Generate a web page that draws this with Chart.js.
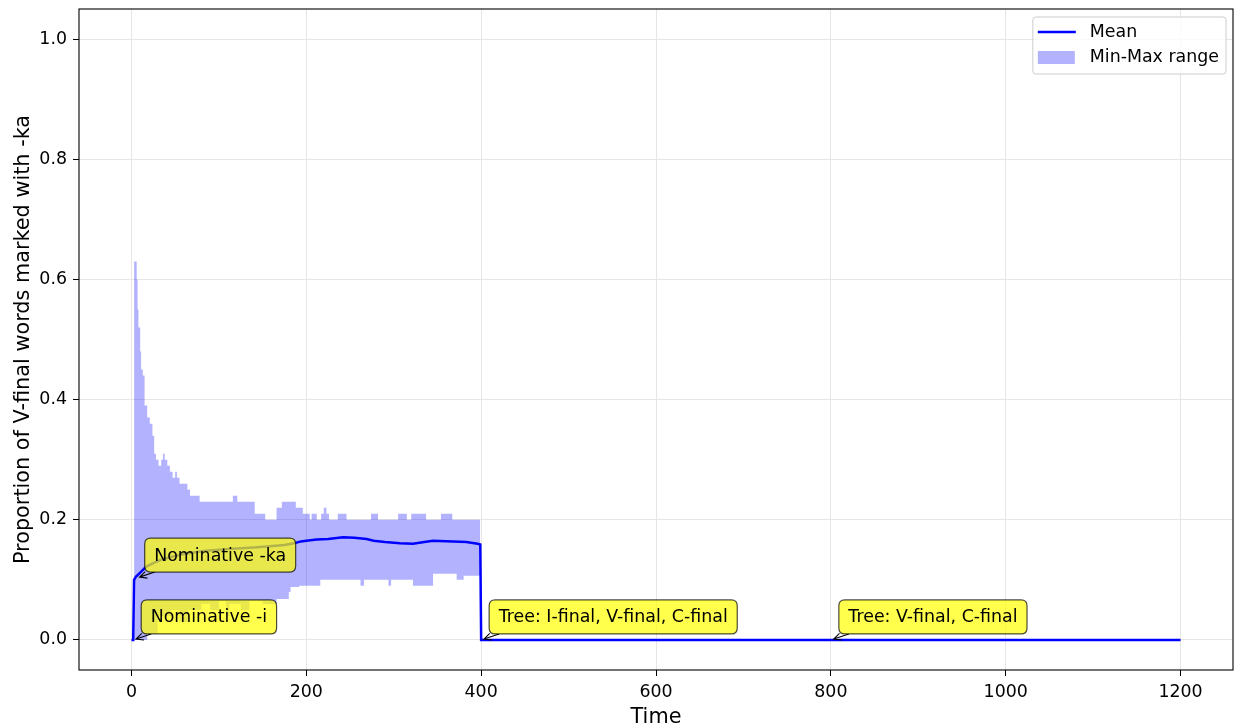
<!DOCTYPE html>
<html>
<head>
<meta charset="utf-8">
<script src="https://cdn.jsdelivr.net/npm/chart.js@4.4.1/dist/chart.umd.min.js"></script>
<style>
  html, body { margin: 0; padding: 0; background: #fff; }
  #chart { display: block; }
</style>
</head>
<body>
<canvas id="chart" width="1236" height="727"></canvas>
<script>
// eixos
const xTicks = [0, 200, 400, 600, 800, 1000, 1200];
const yTicks = [0, 0.2, 0.4, 0.6, 0.8, 1.0];

// média ao longo do tempo
const meanTimes = [0, 2, 3, 5, 10, 17, 25, 35, 45, 60, 82, 100, 120, 140, 158, 175, 186, 194, 200, 212,
  225, 242, 255, 269, 277, 290, 307, 322, 335, 345, 368, 383, 396, 399, 400, 1200];
const meanValues = [0, 0, 0.100, 0.105, 0.112, 0.122, 0.128, 0.134, 0.138, 0.143, 0.148, 0.150, 0.152, 0.154, 0.156, 0.158, 0.161, 0.164, 0.165, 0.167,
  0.168, 0.171, 0.170, 0.168, 0.165, 0.163, 0.161, 0.160, 0.163, 0.165, 0.164, 0.163, 0.160, 0.159, 0, 0];

// faixa min-max (degraus: cada valor vale a partir do seu tempo)
const bandTimes = [3, 6, 7, 8, 10, 11, 13, 15, 18, 21, 24, 26, 28, 30, 31, 34, 36, 38, 41, 44,
  45, 47, 50, 52, 55, 60, 64, 65, 67, 75, 78, 80, 90, 100, 108, 112, 116, 121, 125, 135,
  141, 150, 153, 166, 172, 180, 182, 188, 192, 196, 204, 206, 212, 216, 217, 220, 223, 226, 236, 246,
  262, 266, 274, 282, 294, 297, 305, 315, 320, 322, 337, 345, 354, 367, 372, 380, 399];
const bandMax = [0.63, 0.60, 0.55, 0.52, 0.48, 0.45, 0.44, 0.39, 0.37, 0.36, 0.34, 0.31, 0.30, 0.30, 0.29, 0.30, 0.31, 0.30, 0.29, 0.28,
  0.28, 0.27, 0.28, 0.27, 0.26, 0.26, 0.25, 0.25, 0.24, 0.24, 0.23, 0.23, 0.23, 0.23, 0.23, 0.23, 0.24, 0.23, 0.23, 0.23,
  0.21, 0.21, 0.20, 0.22, 0.23, 0.23, 0.23, 0.22, 0.22, 0.21, 0.20, 0.21, 0.20, 0.20, 0.21, 0.22, 0.21, 0.20, 0.21, 0.20,
  0.20, 0.20, 0.21, 0.20, 0.20, 0.20, 0.21, 0.20, 0.21, 0.21, 0.20, 0.20, 0.21, 0.20, 0.20, 0.20, 0.20];
const bandMin = [0, 0, 0, 0, 0, 0, 0, 0, 0.01, 0.01, 0.01, 0.01, 0.01, 0.04, 0.04, 0.04, 0.04, 0.04, 0.04, 0.04,
  0.05, 0.05, 0.05, 0.05, 0.03, 0.03, 0.03, 0.05, 0.05, 0.05, 0.05, 0.06, 0.05, 0.065, 0.04, 0.06, 0.06, 0.06, 0.05, 0.065,
  0.065, 0.06, 0.06, 0.068, 0.068, 0.08, 0.088, 0.088, 0.09, 0.09, 0.09, 0.09, 0.09, 0.10, 0.10, 0.10, 0.10, 0.10, 0.10, 0.10,
  0.09, 0.10, 0.10, 0.10, 0.09, 0.10, 0.10, 0.10, 0.10, 0.09, 0.09, 0.11, 0.11, 0.11, 0.10, 0.107, 0.107];

// anotações
const noteTexts = ['Nominative -ka', 'Nominative -i', 'Tree: I-final, V-final, C-final', 'Tree: V-final, C-final'];
const noteX = [6, 2, 400, 800];
const noteY = [0.103, 0, 0, 0];

const FONT = '"DejaVu Sans", "Liberation Sans", sans-serif';
const SMALL = 17.4;
const BIG = 20.8;
const BAND_COLOR = 'rgba(0, 0, 255, 0.3)';

function roundRect(ctx, x, y, w, h, r) {
    ctx.beginPath();
    ctx.moveTo(x + r, y);
    ctx.lineTo(x + w - r, y);
    ctx.quadraticCurveTo(x + w, y, x + w, y + r);
    ctx.lineTo(x + w, y + h - r);
    ctx.quadraticCurveTo(x + w, y + h, x + w - r, y + h);
    ctx.lineTo(x + r, y + h);
    ctx.quadraticCurveTo(x, y + h, x, y + h - r);
    ctx.lineTo(x, y + r);
    ctx.quadraticCurveTo(x, y, x + r, y);
    ctx.closePath();
}

const overlayPlugin = {
    id: 'overlay',
    afterDatasetsDraw(chart) {
        const ctx = chart.ctx;
        const xs = chart.scales.x, ys = chart.scales.y;
        ctx.save();
        ctx.font = SMALL + 'px ' + FONT;
        noteTexts.forEach((text, i) => {
            const px = xs.getPixelForValue(noteX[i]);
            const py = ys.getPixelForValue(noteY[i]);
            const w = ctx.measureText(text).width + 19;
            const h = 34;
            const left = px + 8;
            const bottom = py - 6;
            const top = bottom - h;

            // seta "<-"
            const sx = left + 10, sy = bottom;
            let dx = sx - px, dy = sy - py;
            const len = Math.hypot(dx, dy);
            dx /= len; dy /= len;
            const tx = px + dx * 3, ty = py + dy * 3;
            ctx.strokeStyle = '#000';
            ctx.lineWidth = 1.1;
            ctx.beginPath();
            ctx.moveTo(sx, sy);
            ctx.lineTo(tx, ty);
            const a = 0.45, hl = 8;
            ctx.moveTo(tx + hl * (dx * Math.cos(a) - dy * Math.sin(a)), ty + hl * (dx * Math.sin(a) + dy * Math.cos(a)));
            ctx.lineTo(tx, ty);
            ctx.lineTo(tx + hl * (dx * Math.cos(-a) - dy * Math.sin(-a)), ty + hl * (dx * Math.sin(-a) + dy * Math.cos(-a)));
            ctx.stroke();

            // caixa
            roundRect(ctx, left, top, w, h, 6);
            ctx.fillStyle = 'rgba(255, 255, 0, 0.7)';
            ctx.fill();
            ctx.strokeStyle = 'rgba(0, 0, 0, 0.7)';
            ctx.lineWidth = 1.2;
            ctx.stroke();

            ctx.fillStyle = '#000';
            ctx.textBaseline = 'middle';
            ctx.textAlign = 'left';
            ctx.fillText(text, left + 9.5, top + h / 2 + 1);
        });
        ctx.restore();
    },
    afterDraw(chart) {
        const ctx = chart.ctx;
        const area = chart.chartArea;
        ctx.save();
        // moldura
        ctx.strokeStyle = '#000';
        ctx.lineWidth = 1.1;
        ctx.strokeRect(area.left, area.top, area.right - area.left, area.bottom - area.top);

        // legenda
        ctx.font = SMALL + 'px ' + FONT;
        const labels = ['Mean', 'Min-Max range'];
        const textW = Math.max(...labels.map(l => ctx.measureText(l).width));
        const boxW = textW + 64;
        const boxH = 57;
        const bx = area.right - 7 - boxW;
        const by = area.top + 8;
        roundRect(ctx, bx, by, boxW, boxH, 3);
        ctx.fillStyle = 'rgba(255, 255, 255, 0.8)';
        ctx.fill();
        ctx.strokeStyle = '#cccccc';
        ctx.lineWidth = 1;
        ctx.stroke();

        ctx.strokeStyle = '#0000ff';
        ctx.lineWidth = 2.5;
        ctx.beginPath();
        ctx.moveTo(bx + 5, by + 15);
        ctx.lineTo(bx + 43, by + 15);
        ctx.stroke();

        ctx.fillStyle = BAND_COLOR;
        ctx.fillRect(bx + 5, by + 34, 37, 13);

        ctx.fillStyle = '#000';
        ctx.textBaseline = 'middle';
        ctx.textAlign = 'left';
        ctx.fillText(labels[0], bx + 57, by + 15);
        ctx.fillText(labels[1], bx + 57, by + 40);
        ctx.restore();
    }
};

const ctx = document.getElementById('chart').getContext('2d');

new Chart(ctx, {
    type: 'line',
    data: {
        datasets: [
            {
                label: 'Mean',
                data: meanTimes.map((t, i) => ({ x: t, y: meanValues[i] })),
                borderColor: '#0000ff',
                borderWidth: 2.5,
                pointRadius: 0,
                tension: 0,
                fill: false
            },
            {
                label: 'Min',
                data: bandTimes.map((t, i) => ({ x: t, y: bandMin[i] })),
                borderWidth: 0,
                borderColor: 'rgba(0,0,0,0)',
                pointRadius: 0,
                stepped: 'before',
                fill: false
            },
            {
                label: 'Min-Max range',
                data: bandTimes.map((t, i) => ({ x: t, y: bandMax[i] })),
                borderWidth: 0,
                borderColor: 'rgba(0,0,0,0)',
                backgroundColor: BAND_COLOR,
                pointRadius: 0,
                stepped: 'before',
                fill: 1
            }
        ]
    },
    options: {
        responsive: false,
        animation: false,
        devicePixelRatio: 1,
        layout: {
            padding: { top: 9, right: 3, left: 0, bottom: 0 }
        },
        plugins: {
            legend: { display: false },
            tooltip: { enabled: false }
        },
        scales: {
            x: {
                type: 'linear',
                min: -60,
                max: 1260,
                afterBuildTicks: s => { s.ticks = xTicks.map(v => ({ value: v })); },
                afterFit: s => { s.height = 57; s.paddingLeft = 0; s.paddingRight = 0; },
                border: { display: false },
                grid: {
                    color: '#e6e6e6',
                    lineWidth: 1,
                    tickColor: '#000',
                    tickLength: 6
                },
                ticks: {
                    color: '#000',
                    padding: 6,
                    maxRotation: 0,
                    font: { family: FONT, size: SMALL },
                    callback: v => String(v)
                },
                title: {
                    display: true,
                    text: 'Time',
                    color: '#000',
                    font: { family: FONT, size: BIG },
                    padding: { top: 0, bottom: -3 }
                }
            },
            y: {
                type: 'linear',
                min: -0.05,
                max: 1.05,
                afterBuildTicks: s => { s.ticks = yTicks.map(v => ({ value: v })); },
                afterFit: s => { s.width = 79; s.paddingTop = 0; s.paddingBottom = 0; },
                border: { display: false },
                grid: {
                    color: '#e6e6e6',
                    lineWidth: 1,
                    tickColor: '#000',
                    tickLength: 6
                },
                ticks: {
                    color: '#000',
                    padding: 6,
                    font: { family: FONT, size: SMALL },
                    callback: v => v.toFixed(1)
                },
                title: {
                    display: true,
                    text: 'Proportion of V-final words marked with -ka',
                    color: '#000',
                    font: { family: FONT, size: BIG },
                    padding: { top: 11, bottom: 0 }
                }
            }
        }
    },
    plugins: [overlayPlugin]
});
</script>
</body>
</html>
